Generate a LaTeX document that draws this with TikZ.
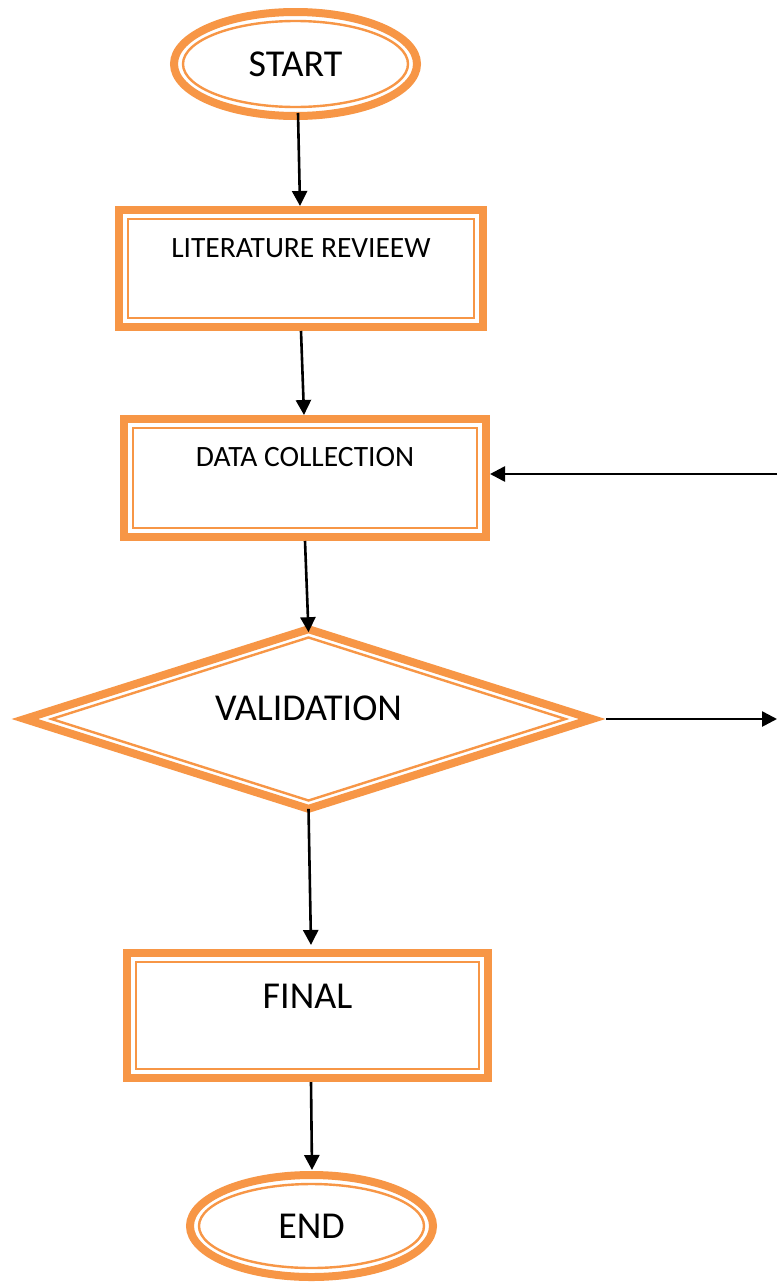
\documentclass[tikz,border=0pt]{standalone}
\usepackage{fontspec}
\setmainfont{Carlito}
\usetikzlibrary{shapes.geometric,arrows.meta}
\definecolor{acc}{RGB}{247,150,70}
\tikzset{
  thickline/.style={draw=acc,line width=8pt,miter limit=20,inner sep=0pt},
  thinline/.style={draw=acc,line width=2.4pt},
  boxnode/.style={thickline,rectangle,font=\fontsize{29.5}{31}\selectfont},
  bigbox/.style={thickline,rectangle,font=\fontsize{38}{42}\selectfont},
  termnode/.style={thickline,ellipse,font=\fontsize{38}{42}\selectfont},
  decnode/.style={thickline,diamond,aspect=3.15,outer sep=0pt,font=\fontsize{38}{42}\selectfont},
  conn/.style={draw=black,line width=2.6pt,-{Triangle[length=15pt,width=15pt]}}
}
\begin{document}
\begin{tikzpicture}[x=1pt,y=-1pt]
\path[fill=white] (0,0) rectangle (777,1282);
\useasboundingbox (0,0) rectangle (777,1282);

% START
\node[termnode,minimum width=243pt,minimum height=104pt] (start) at (295.5,64) {START};
\draw[thinline] (start.center) ellipse [x radius=112.5pt, y radius=43pt];

% LITERATURE REVIEEW
\node[boxnode,minimum width=364pt,text height=47pt,text depth=70pt] (lit) at (301,268.5) {LITERATURE REVIEEW};
\draw[thinline] ([shift={(13,13)}]lit.north west) rectangle ([shift={(-13,-13)}]lit.south east);

% DATA COLLECTION
\node[boxnode,minimum width=362pt,text height=47pt,text depth=71pt] (data) at (305,478) {DATA COLLECTION};
\draw[thinline] ([shift={(13,13)}]data.north west) rectangle ([shift={(-13,-13)}]data.south east);

% VALIDATION
\node[decnode,minimum width=567.4pt,minimum height=179.6pt,text height=24pt,text depth=22pt] (val) at (308.5,719) {VALIDATION};
\draw[thinline,line join=miter,miter limit=20] ([shift={(-257,0)}]val.center) -- ([shift={(0,-81.5)}]val.center) -- ([shift={(257,0)}]val.center) -- ([shift={(0,81.5)}]val.center) -- cycle;

% FINAL
\node[bigbox,minimum width=361pt,text height=55pt,text depth=70pt] (final) at (307.5,1015.5) {FINAL};
\draw[thinline] ([shift={(13,13)}]final.north west) rectangle ([shift={(-13,-13)}]final.south east);

% END
\node[termnode,minimum width=243pt,minimum height=102pt] (end) at (311.5,1226) {END};
\draw[thinline] (end.center) ellipse [x radius=112.5pt, y radius=42pt];

% free ends
\coordinate (fb) at (777,474);
\coordinate (out) at (777,719);

% connectors
\draw[conn] ([shift={(2.5,-7)}]start.south) -- ([xshift=-1]lit.north);
\draw[conn] (lit.south) -- ([xshift=-1]data.north);
\draw[conn] (data.south) -- ([yshift=-3]val.north);
\draw[conn] (val.south) -- ([shift={(3.5,-4)}]final.north);
\draw[conn] ([xshift=3.5]final.south) -- ([shift={(0.5,-1)}]end.north);
\draw[conn] (fb) -- (fb -| data.east);
\draw[conn] ([xshift=14]val.east) -- (out);
\end{tikzpicture}
\end{document}
